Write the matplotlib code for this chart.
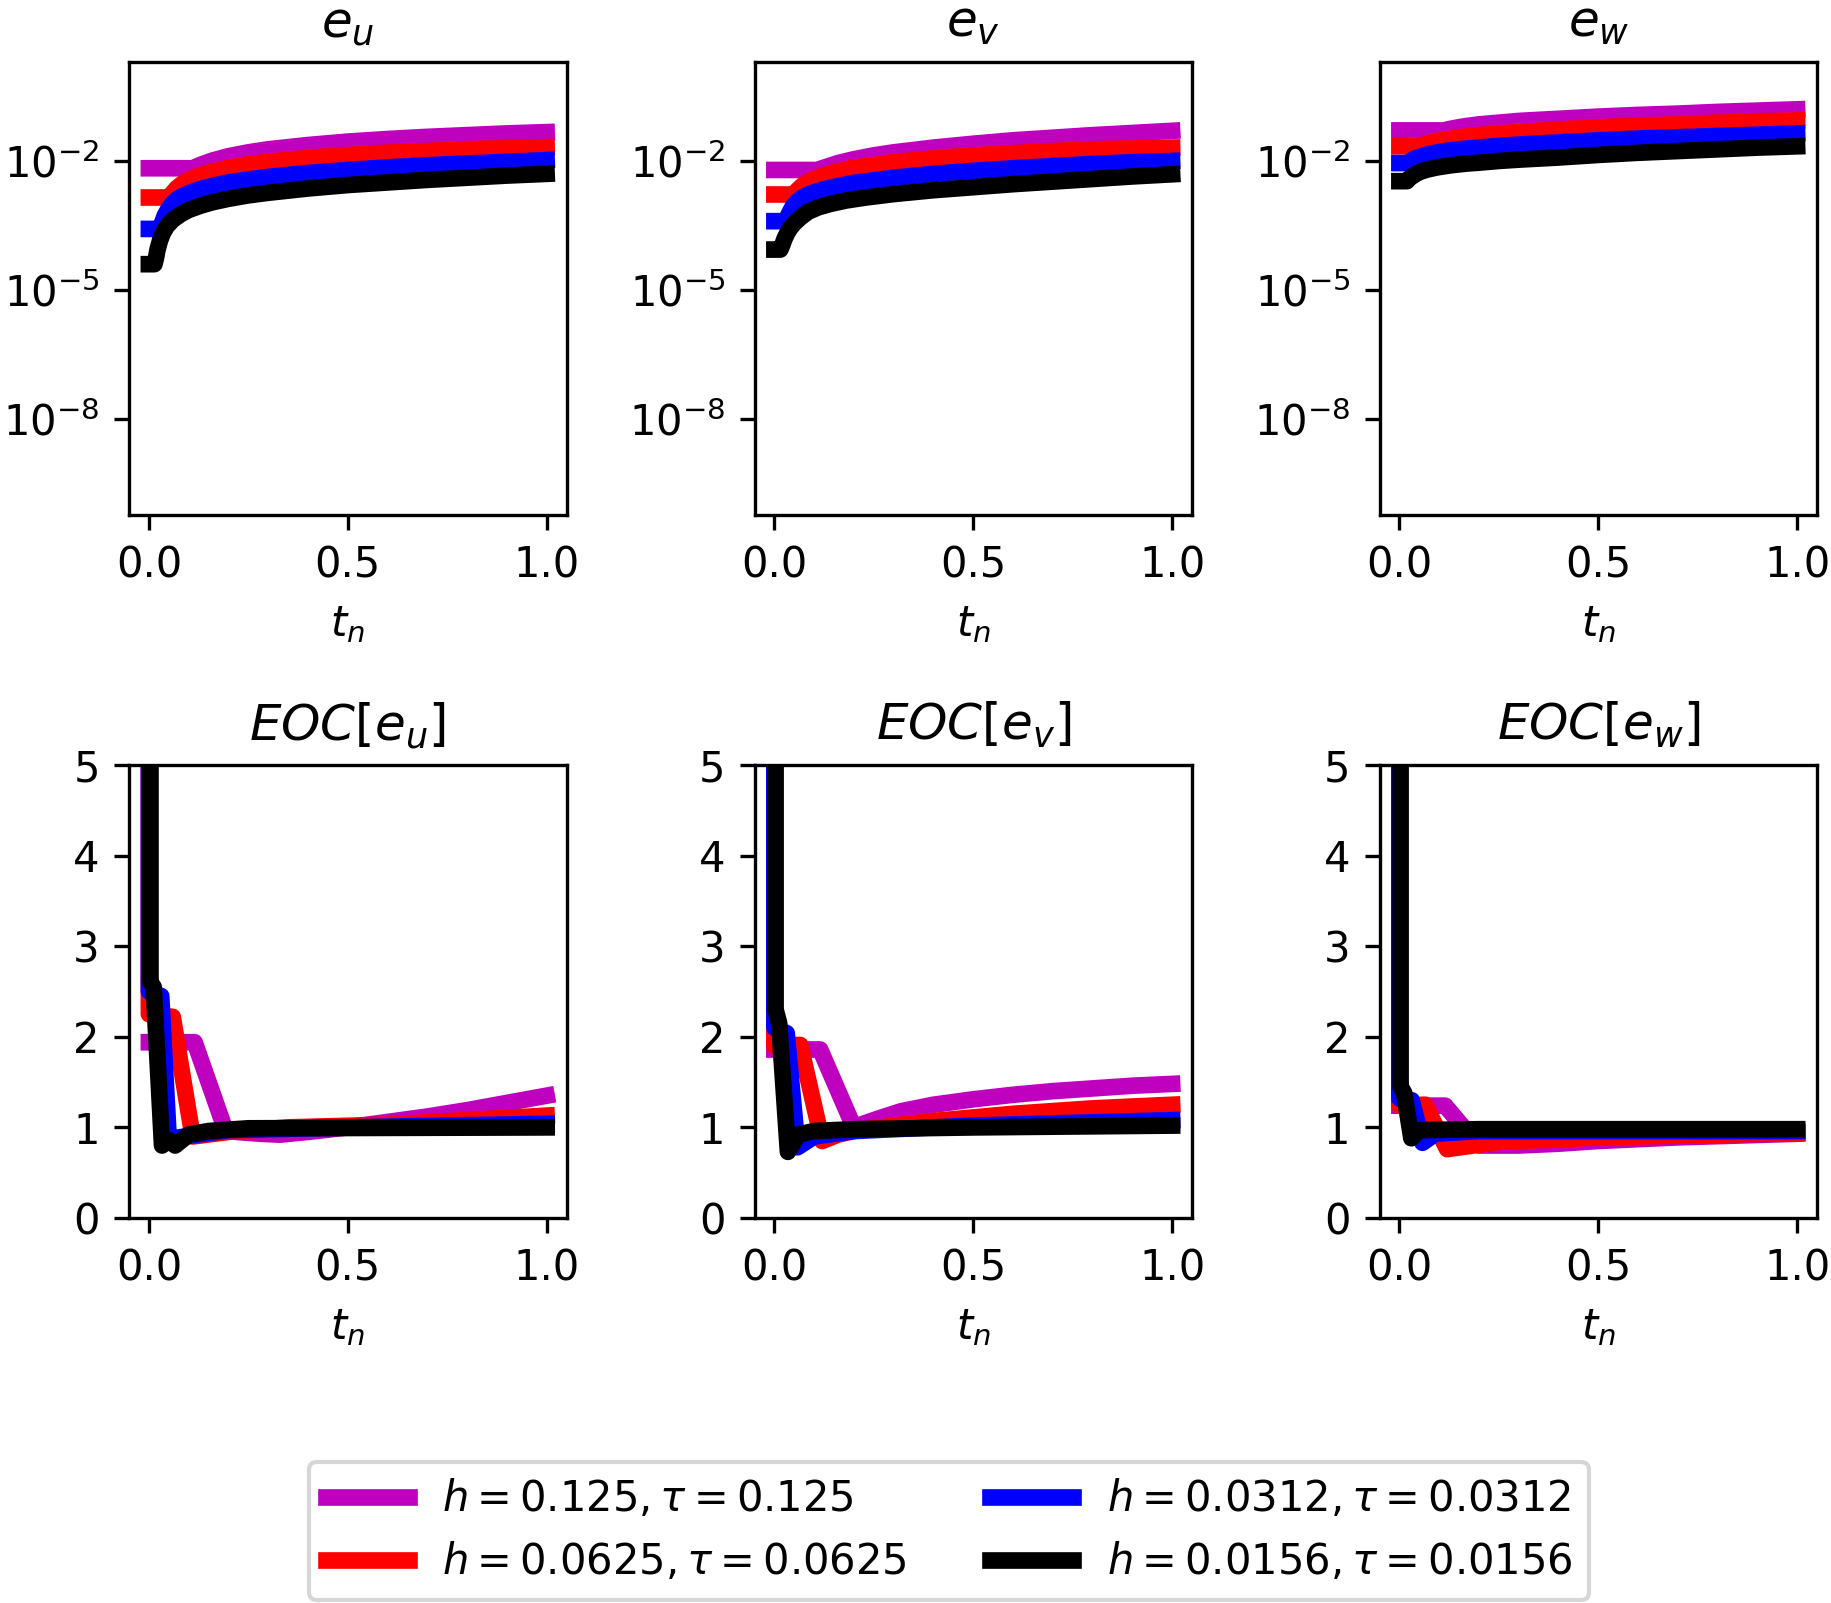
import matplotlib
matplotlib.use("Agg")
import matplotlib.pyplot as plt
from matplotlib.ticker import NullLocator, FixedLocator

# ---------------- data ----------------
LABELS = [r"$h = 0.125, \tau = 0.125$", r"$h = 0.0625, \tau = 0.0625$",
          r"$h = 0.0312, \tau = 0.0312$", r"$h = 0.0156, \tau = 0.0156$"]

# error e_u
T_EU_P = [0, 0.11, 0.13, 0.16, 0.2, 0.25, 0.3, 0.4, 0.5, 0.6, 0.7, 0.8, 0.9, 1.0]
EU_P = [6.76e-3, 6.76e-3, 8.13e-3, 1.023e-2, 1.288e-2, 1.585e-2, 1.862e-2, 2.344e-2,
        2.818e-2, 3.236e-2, 3.631e-2, 3.981e-2, 4.365e-2, 4.677e-2]
T_EU_R = [0, 0.05, 0.06, 0.07, 0.085, 0.1, 0.13, 0.16, 0.2, 0.25, 0.3, 0.4, 0.5, 0.6, 0.7, 0.8, 0.9, 1.0]
EU_R = [1.413e-3, 1.413e-3, 1.82e-3, 2.344e-3, 3.02e-3, 3.631e-3, 4.677e-3, 5.623e-3, 6.918e-3,
        8.318e-3, 9.55e-3, 1.175e-2, 1.38e-2, 1.549e-2, 1.698e-2, 1.862e-2, 1.995e-2, 2.089e-2]
T_EU_B = [0, 0.028, 0.034, 0.04, 0.05, 0.06, 0.075, 0.1, 0.13, 0.16, 0.2, 0.25, 0.3, 0.4, 0.5,
          0.6, 0.7, 0.8, 0.9, 1.0]
EU_B = [2.63e-4, 2.63e-4, 3.802e-4, 5.37e-4, 7.943e-4, 1.047e-3, 1.38e-3, 1.778e-3, 2.239e-3,
        2.63e-3, 3.162e-3, 3.715e-3, 4.266e-3, 5.248e-3, 6.166e-3, 7.079e-3, 7.943e-3, 8.71e-3,
        9.55e-3, 1.047e-2]
T_EU_K = [0, 0.014, 0.018, 0.022, 0.028, 0.035, 0.045, 0.06, 0.08, 0.1, 0.13, 0.16, 0.2, 0.25,
          0.3, 0.4, 0.5, 0.6, 0.7, 0.8, 0.9, 1.0]
EU_K = [3.981e-5, 3.981e-5, 5.623e-5, 8.913e-5, 1.413e-4, 2.089e-4, 3.02e-4, 4.266e-4, 5.754e-4,
        7.244e-4, 9.12e-4, 1.096e-3, 1.318e-3, 1.585e-3, 1.82e-3, 2.291e-3, 2.754e-3, 3.162e-3,
        3.631e-3, 4.074e-3, 4.571e-3, 5.012e-3]

# error e_v
T_EV_P = [0, 0.107, 0.13, 0.16, 0.2, 0.25, 0.3, 0.4, 0.5, 0.6, 0.7, 0.8, 0.9, 1.0]
EV_P = [6.166e-3, 6.166e-3, 7.244e-3, 8.913e-3, 1.096e-2, 1.349e-2, 1.585e-2, 2.042e-2,
        2.512e-2, 3.02e-2, 3.467e-2, 3.981e-2, 4.467e-2, 5.012e-2]
T_EV_R = [0, 0.048, 0.058, 0.068, 0.08, 0.1, 0.13, 0.16, 0.2, 0.25, 0.3, 0.4, 0.5, 0.6, 0.7,
          0.8, 0.9, 1.0]
EV_R = [1.66e-3, 1.66e-3, 2.089e-3, 2.57e-3, 3.09e-3, 3.802e-3, 4.786e-3, 5.754e-3, 6.918e-3,
        8.128e-3, 9.333e-3, 1.148e-2, 1.349e-2, 1.514e-2, 1.698e-2, 1.862e-2, 1.95e-2, 2.042e-2]
T_EV_B = [0, 0.03, 0.036, 0.045, 0.055, 0.07, 0.09, 0.12, 0.16, 0.2, 0.25, 0.3, 0.4, 0.5, 0.6,
          0.7, 0.8, 0.9, 1.0]
EV_B = [3.981e-4, 3.981e-4, 5.754e-4, 8.318e-4, 1.096e-3, 1.413e-3, 1.738e-3, 2.138e-3, 2.63e-3,
        3.09e-3, 3.548e-3, 4.074e-3, 5.012e-3, 5.888e-3, 6.761e-3, 7.586e-3, 8.511e-3, 9.333e-3,
        1.0e-2]
T_EV_K = [0, 0.015, 0.02, 0.025, 0.032, 0.04, 0.05, 0.065, 0.085, 0.11, 0.14, 0.18, 0.23, 0.3,
          0.4, 0.5, 0.6, 0.7, 0.8, 0.9, 1.0]
EV_K = [8.71e-5, 8.71e-5, 1.122e-4, 1.514e-4, 2.089e-4, 2.754e-4, 3.548e-4, 4.786e-4, 6.607e-4,
        8.318e-4, 1.0e-3, 1.202e-3, 1.413e-3, 1.698e-3, 2.089e-3, 2.455e-3, 2.884e-3, 3.311e-3,
        3.802e-3, 4.365e-3, 4.898e-3]

# error e_w
T_EW_P = [0, 0.111, 0.13, 0.16, 0.2, 0.25, 0.3, 0.4, 0.5, 0.6, 0.7, 0.8, 0.9, 1.0]
EW_P = [5.129e-2, 5.129e-2, 5.623e-2, 6.31e-2, 7.079e-2, 7.762e-2, 8.511e-2, 9.55e-2, 0.1072,
        0.1175, 0.1259, 0.138, 0.1479, 0.1585]
T_EW_R = [0, 0.053, 0.065, 0.08, 0.1, 0.13, 0.16, 0.2, 0.25, 0.3, 0.4, 0.5, 0.6, 0.7, 0.8, 0.9, 1.0]
EW_R = [2.188e-2, 2.188e-2, 2.455e-2, 2.692e-2, 2.951e-2, 3.311e-2, 3.631e-2, 3.981e-2, 4.365e-2,
        4.677e-2, 5.37e-2, 6.026e-2, 6.607e-2, 7.079e-2, 7.762e-2, 8.318e-2, 8.71e-2]
T_EW_B = [0, 0.023, 0.03, 0.04, 0.053, 0.07, 0.095, 0.13, 0.17, 0.2, 0.25, 0.3, 0.4, 0.5, 0.6,
          0.7, 0.8, 0.9, 1.0]
EW_B = [8.913e-3, 8.913e-3, 1.023e-2, 1.148e-2, 1.259e-2, 1.413e-2, 1.585e-2, 1.778e-2, 1.95e-2,
        2.042e-2, 2.239e-2, 2.399e-2, 2.692e-2, 3.02e-2, 3.311e-2, 3.548e-2, 3.802e-2, 4.074e-2,
        4.365e-2]
T_EW_K = [0, 0.019, 0.024, 0.032, 0.042, 0.053, 0.07, 0.095, 0.13, 0.17, 0.2, 0.25, 0.3, 0.4,
          0.5, 0.6, 0.7, 0.8, 0.9, 1.0]
EW_K = [3.388e-3, 3.388e-3, 3.89e-3, 4.365e-3, 5.012e-3, 5.623e-3, 6.31e-3, 7.079e-3, 7.943e-3,
        8.71e-3, 9.12e-3, 1.0e-2, 1.072e-2, 1.202e-2, 1.38e-2, 1.549e-2, 1.698e-2, 1.862e-2,
        2.042e-2, 2.188e-2]

# EOC[e_u]
T_OU_P = [0, 0.115, 0.19, 0.22, 0.28, 0.33, 0.4, 0.5, 0.6, 0.7, 0.8, 0.9, 1.0]
OU_P = [1.94, 1.94, 1.0, 0.95, 0.93, 0.92, 0.95, 1.0, 1.06, 1.12, 1.19, 1.27, 1.35]
T_OU_R = [0, 0, 0.06, 0.11, 0.2, 0.35, 0.6, 1.0]
OU_R = [40, 2.25, 2.22, 0.9, 0.95, 1.0, 1.03, 1.13]
T_OU_B = [0, 0, 0.031, 0.05, 0.09, 0.2, 0.5, 1.0]
OU_B = [40, 2.5, 2.45, 0.87, 0.9, 0.97, 1.0, 1.04]
T_OU_K = [0.004, 0.004, 0.012, 0.033, 0.05, 0.066, 0.1, 0.15, 0.25, 1.0]
OU_K = [40, 2.6, 2.55, 0.8, 0.86, 0.8, 0.92, 0.96, 0.99, 1.0]

# EOC[e_v]
T_OV_P = [0, 0.115, 0.2, 0.23, 0.27, 0.32, 0.4, 0.5, 0.6, 0.7, 0.8, 0.9, 1.0]
OV_P = [1.86, 1.86, 1.0, 1.05, 1.11, 1.18, 1.25, 1.31, 1.36, 1.4, 1.43, 1.46, 1.48]
T_OV_R = [0, 0, 0.065, 0.12, 0.16, 0.2, 0.3, 0.4, 0.5, 0.6, 0.7, 0.8, 0.9, 1.0]
OV_R = [40, 1.9, 1.91, 0.85, 0.92, 0.96, 1.02, 1.07, 1.11, 1.15, 1.18, 1.21, 1.23, 1.25]
T_OV_B = [0, 0, 0.031, 0.058, 0.1, 0.2, 0.5, 1.0]
OV_B = [40, 2.1, 2.04, 0.78, 0.9, 0.96, 1.02, 1.08]
T_OV_K = [0.003, 0.003, 0.012, 0.034, 0.06, 0.1, 0.2, 0.5, 1.0]
OV_K = [40, 2.3, 2.15, 0.73, 0.92, 0.96, 0.98, 1.0, 1.02]

# EOC[e_w]
T_OW_P = [0, 0.115, 0.2, 0.3, 0.4, 0.5, 0.7, 1.0]
OW_P = [1.24, 1.24, 0.8, 0.8, 0.82, 0.85, 0.89, 0.93]
T_OW_R = [0, 0, 0.065, 0.12, 0.25, 0.5, 1.0]
OW_R = [40, 1.24, 1.25, 0.76, 0.84, 0.89, 0.94]
T_OW_B = [0, 0, 0.031, 0.058, 0.09, 0.2, 1.0]
OW_B = [40, 1.32, 1.3, 0.83, 0.93, 0.96, 0.96]
T_OW_K = [0.003, 0.003, 0.012, 0.03, 0.05, 0.2, 1.0]
OW_K = [40, 1.45, 1.38, 0.88, 0.97, 0.98, 0.98]

TITLES = [r"$e_u$", r"$e_v$", r"$e_w$", r"$EOC[e_u]$", r"$EOC[e_v]$", r"$EOC[e_w]$"]
XLABEL = r"$t_n$"
XTICKS = [0.0, 0.5, 1.0]
YTICKS_ERR = [1e-8, 1e-5, 1e-2]
YTICKS_EOC = [0, 1, 2, 3, 4, 5]

PANELS = [
    [(T_EU_P, EU_P), (T_EU_R, EU_R), (T_EU_B, EU_B), (T_EU_K, EU_K)],
    [(T_EV_P, EV_P), (T_EV_R, EV_R), (T_EV_B, EV_B), (T_EV_K, EV_K)],
    [(T_EW_P, EW_P), (T_EW_R, EW_R), (T_EW_B, EW_B), (T_EW_K, EW_K)],
    [(T_OU_P, OU_P), (T_OU_R, OU_R), (T_OU_B, OU_B), (T_OU_K, OU_K)],
    [(T_OV_P, OV_P), (T_OV_R, OV_R), (T_OV_B, OV_B), (T_OV_K, OV_K)],
    [(T_OW_P, OW_P), (T_OW_R, OW_R), (T_OW_B, OW_B), (T_OW_K, OW_K)],
]

# ---------------- styling / layout ----------------
COLORS = ["m", "r", "b", "k"]
W, H, DPI = 1831, 1603, 300
fig = plt.figure(figsize=(W / DPI, H / DPI), dpi=DPI)

col_left = [129, 754.5, 1379.5]
ax_w = 437.5
row_top = [62, 765]
ax_h = 453

handles = []
for i, series in enumerate(PANELS):
    r, c = divmod(i, 3)
    x0 = col_left[c] / W
    y0 = 1 - (row_top[r] + ax_h) / H
    ax = fig.add_axes([x0, y0, ax_w / W, ax_h / H])
    for (t, v), col, lab in zip(series, COLORS, LABELS):
        ln, = ax.plot(t, v, color=col, lw=4, label=lab)
        if i == 0:
            handles.append(ln)
    ax.set_xlim(-0.05, 1.05)
    ax.set_xticks(XTICKS)
    if r == 0:
        ax.set_yscale("log")
        ax.set_ylim(10 ** -10.23, 10 ** 0.30)
        ax.yaxis.set_major_locator(FixedLocator(YTICKS_ERR))
        ax.yaxis.set_minor_locator(NullLocator())
    else:
        ax.set_ylim(0, 5)
        ax.set_yticks(YTICKS_EOC)
    ax.set_title(TITLES[i], fontsize=12)
    ax.set_xlabel(XLABEL, fontsize=10)
    ax.tick_params(labelsize=10)

fig.legend(handles=handles, labels=LABELS, ncol=2, loc="lower center",
           bbox_to_anchor=(949 / W, 3 / H), borderaxespad=0, fontsize=10)

fig.savefig("out.png", dpi=DPI)
